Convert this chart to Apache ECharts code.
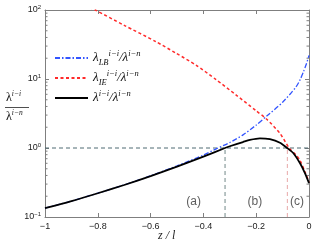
<!DOCTYPE html>
<html>
<head>
<meta charset="utf-8">
<script src="https://cdn.jsdelivr.net/npm/echarts@6/dist/echarts.min.js"></script>
<style>html,body{margin:0;padding:0;background:#fff}#c{width:316px;height:246px}</style>
</head>
<body>
<div id="c"></div>
<script>
// ---- data ----
const xTicks = [-1, -0.8, -0.6, -0.4, -0.2, 0];
const yTicks = [0.1, 1, 10, 100];

const lbZ = [-1, -0.9, -0.8, -0.7, -0.6, -0.5, -0.4, -0.35, -0.3, -0.25, -0.2, -0.16, -0.1, -0.05, -0.034, -0.02, -0.009, 0];
const lbV = [0.134, 0.17, 0.222, 0.292, 0.395, 0.55, 0.79, 0.98, 1.2, 1.55, 2.15, 2.9, 4.6, 7.6, 9.7, 13, 17, 22];

const ieZ = [-0.85, -0.81, -0.7, -0.58, -0.504, -0.428, -0.352, -0.277, -0.201, -0.16, -0.11, -0.075, -0.05, -0.034, -0.015, 0];
const ieV = [118, 100, 60, 34.8, 23.7, 15.9, 9.8, 5.9, 3.48, 2.61, 1.63, 1.0, 0.8, 0.66, 0.45, 0.32];

const totZ = [-1, -0.9, -0.8, -0.7, -0.6, -0.5, -0.4, -0.318, -0.3, -0.25, -0.224, -0.186, -0.148, -0.11, -0.083, -0.059, -0.034, -0.015, 0];
const totV = [0.134, 0.17, 0.221, 0.291, 0.391, 0.537, 0.75, 1.0, 1.06, 1.22, 1.31, 1.38, 1.34, 1.19, 1.0, 0.84, 0.60, 0.43, 0.31];

const refLevel = 1;
const regionBounds = [-0.318, -0.082];
const regionLabels = [['(a)', -0.437, 0.168], ['(b)', -0.205, 0.168], ['(c)', -0.045, 0.168]];
const minorTickVals = [0.2,0.3,0.4,0.5,0.6,0.7,0.8,0.9,2,3,4,5,6,7,8,9,20,30,40,50,60,70,80,90];

// ---- build ----
const pair = (zs, vs) => zs.map((z, i) => [z, vs[i]]);
const supMap = {0.1: '−1', 1: '0', 10: '1', 100: '2'};
const axisGray = '#7f7f7f';
const font = 'Liberation Sans';

const chart = echarts.init(document.getElementById('c'), null, {renderer: 'canvas'});

const legendNames = {
  LB: '{l|λ}{sub|LB}{sup|i−i}{l|/λ}{sup|i−n}',
  IE: '{l|λ}{sub|IE}{sup|i−i}{l|/λ}{sup|i−n}',
  TOT: '{l|λ}{sup|i−i}{l|/λ}{sup|i−n}'
};

const option = {
  animation: false,
  grid: {left: 45, right: 7, top: 10, bottom: 29},
  xAxis: [{
    type: 'value', min: -1, max: 0, interval: 0.2, position: 'bottom',
    axisLine: {onZero: false, lineStyle: {color: axisGray, width: 1}},
    axisTick: {inside: true, length: 4, lineStyle: {color: axisGray}},
    splitLine: {show: false},
    axisLabel: {color: '#222', fontFamily: font, fontSize: 9, margin: 5,
      formatter: v => (v === 0 ? '0' : String(v).replace('-', '−'))}
  }, {
    type: 'value', min: -1, max: 0, interval: 0.2, position: 'top',
    axisLine: {onZero: false, lineStyle: {color: axisGray, width: 1}},
    axisTick: {inside: true, length: 4, lineStyle: {color: axisGray}},
    splitLine: {show: false}, axisLabel: {show: false}
  }],
  yAxis: [{
    type: 'log', logBase: 10, min: 0.1, max: 100, position: 'left',
    axisLine: {onZero: false, lineStyle: {color: axisGray, width: 1}},
    axisTick: {inside: true, length: 4, lineStyle: {color: axisGray}},
    splitLine: {show: false},
    axisLabel: {margin: 4, formatter: v => '{b|10}{s|' + supMap[v] + '}',
      rich: {b: {fontFamily: font, fontSize: 9, color: '#222'},
             s: {fontFamily: font, fontSize: 6, color: '#222', verticalAlign: 'top', lineHeight: 12}}}
  }, {
    type: 'log', logBase: 10, min: 0.1, max: 100, position: 'right',
    axisLine: {onZero: false, lineStyle: {color: axisGray, width: 1}},
    axisTick: {inside: true, length: 4, lineStyle: {color: axisGray}},
    splitLine: {show: false}, axisLabel: {show: false}
  }],
  legend: {
    orient: 'vertical', left: 49, top: 44, itemWidth: 33, itemHeight: 10, itemGap: 2,
    data: ['LB', 'IE', 'TOT'],
    itemStyle: {color: 'rgba(0,0,0,0)', borderWidth: 0, opacity: 0},
    formatter: n => legendNames[n],
    textStyle: {
      rich: {
        l: {fontFamily: 'Liberation Serif', fontStyle: 'italic', fontSize: 13, color: '#111', lineHeight: 18},
        sup: {fontFamily: 'Liberation Serif', fontStyle: 'italic', fontSize: 8.5, color: '#111', verticalAlign: 'top'},
        sub: {fontFamily: 'Liberation Serif', fontStyle: 'italic', fontSize: 8.5, color: '#111', verticalAlign: 'bottom'}
      }
    }
  },
  graphic: [
    {type: 'text', left: 6, top: 90, style: {text: '{l|λ}{s|i−i}', rich: {
      l: {fontFamily: 'Liberation Serif', fontSize: 12, fill: '#111', lineHeight: 15},
      s: {fontFamily: 'Liberation Serif', fontStyle: 'italic', fontSize: 7.5, fill: '#111', verticalAlign: 'top'}}}},
    {type: 'line', shape: {x1: 5, y1: 107.5, x2: 29, y2: 107.5}, style: {stroke: '#222', lineWidth: 0.8}},
    {type: 'text', left: 6, top: 109, style: {text: '{l|λ}{s|i−n}', rich: {
      l: {fontFamily: 'Liberation Serif', fontSize: 12, fill: '#111', lineHeight: 15},
      s: {fontFamily: 'Liberation Serif', fontStyle: 'italic', fontSize: 7.5, fill: '#111', verticalAlign: 'top'}}}},
    {type: 'text', left: 158, top: 230, style: {text: 'z / l', fontFamily: 'Liberation Serif', fontStyle: 'italic', fontSize: 12, fill: '#222'}}
  ],
  series: [
    {type: 'line', name: 'ref', data: [[-1, refLevel], [0, refLevel]], symbol: 'none', silent: true,
     lineStyle: {color: '#4f6b73', width: 1, type: [4, 3]}, z: 1},
    {type: 'line', name: 'bnd1', data: [[regionBounds[0], 0.1], [regionBounds[0], refLevel]], symbol: 'none',
     lineStyle: {color: '#8a9c9c', width: 1.2, type: [4, 3]}, z: 1},
    {type: 'line', name: 'bnd2', data: [[regionBounds[1], 0.1], [regionBounds[1], refLevel]], symbol: 'none',
     lineStyle: {color: '#e8a8a8', width: 1, type: [4, 3]}, z: 1},
    {type: 'line', name: 'LB', data: pair(lbZ, lbV), symbol: 'none', smooth: 0.25,
     itemStyle: {color: '#3355ff'}, lineStyle: {color: '#3355ff', width: 1.3, type: [5, 2, 1.5, 2]}, z: 3},
    {type: 'line', name: 'IE', data: pair(ieZ, ieV), symbol: 'none', smooth: 0.25,
     itemStyle: {color: '#ff2a2a'}, lineStyle: {color: '#ff2a2a', width: 1.5, type: [3, 2.5]}, z: 3},
    {type: 'line', name: 'TOT', data: pair(totZ, totV), symbol: 'none', smooth: 0.25,
     itemStyle: {color: '#000'}, lineStyle: {color: '#000', width: 1.8}, z: 4},
    {type: 'scatter', name: 'labels', data: regionLabels.map(r => ({value: [r[1], r[2]], name: r[0]})),
     symbolSize: 0, silent: true,
     label: {show: true, position: 'inside', formatter: p => p.name, fontFamily: font, fontSize: 12, color: '#333'}, z: 5},
    {type: 'custom', name: 'minor', silent: true, z: 2,
     data: minorTickVals.map(v => [v]),
     renderItem: (params, api) => {
       const v = api.value(0);
       const pl = api.coord([-1, v]);
       const pr = api.coord([0, v]);
       return {type: 'group', children: [
         {type: 'line', shape: {x1: pl[0], y1: pl[1], x2: pl[0] + 2.5, y2: pl[1]}, style: {stroke: axisGray, lineWidth: 1}},
         {type: 'line', shape: {x1: pr[0], y1: pr[1], x2: pr[0] - 2.5, y2: pr[1]}, style: {stroke: axisGray, lineWidth: 1}}
       ]};
     }}
  ]
};
chart.setOption(option);
</script>
</body>
</html>
